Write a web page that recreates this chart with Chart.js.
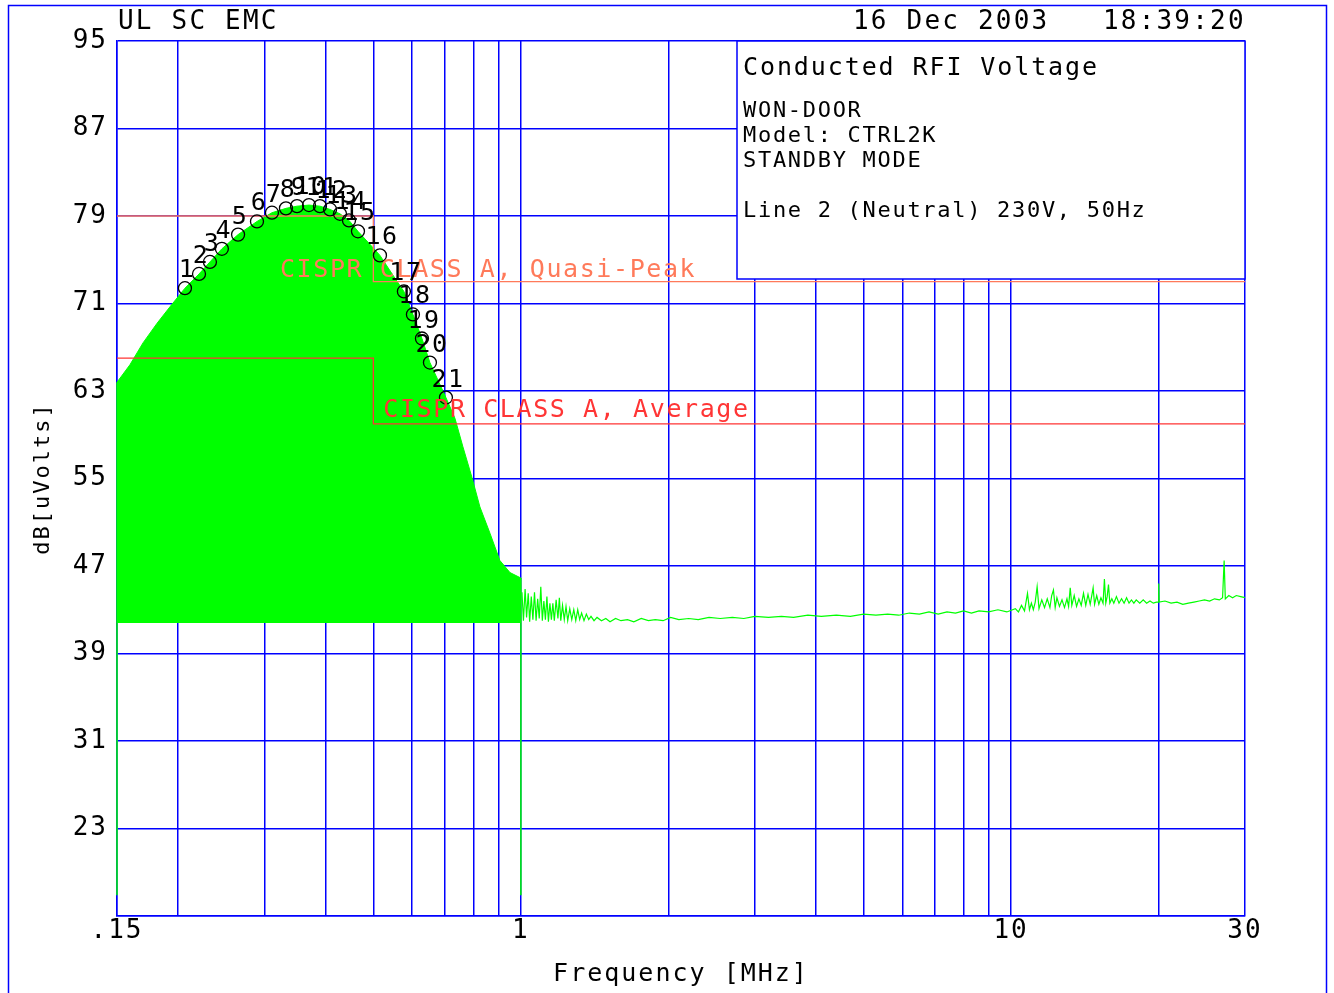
<!DOCTYPE html>
<html><head><meta charset="utf-8">
<script src="https://cdn.jsdelivr.net/npm/chart.js@4.4.1/dist/chart.umd.min.js"></script>
<style>html,body{margin:0;padding:0;background:#fff;}canvas{display:block;}</style>
</head><body>
<canvas id="c" width="1334" height="993"></canvas>
<script>
// ---------------- data ----------------
const gridFreqs = [0.15,0.2,0.3,0.4,0.5,0.6,0.7,0.8,0.9,1,2,3,4,5,6,7,8,9,10,20,30];
const xTickValues = [0.15, 1, 10, 30];
const xTickText = ['.15', '1', '10', '30'];
const yGridValues = [15,23,31,39,47,55,63,71,79,87,95];
const yTickValues = [23,31,39,47,55,63,71,79,87,95];

// envelope of the dense emission hump (0.15 - 1 MHz), filled down to the noise floor
const humpFreq  = [0.150,0.1594,0.1695,0.1811,0.1924,0.2064,0.2205,0.2321,0.2455,0.2649,0.2895,0.3106,0.3317,0.3494,0.3696,0.3891,0.408,0.4275,0.446,0.4652,0.49,0.5158,0.55,0.5772,0.6022,0.6283,0.6523,0.7032,0.7337,0.7616,0.7946,0.825,0.8647,0.906,0.95,1.0];
const humpLevel = [63.8,65.4,67.4,69.2,70.7,72.4,73.7,74.8,76.0,77.3,78.5,79.3,79.7,79.9,80.0,79.9,79.6,79.2,78.6,77.6,76.5,75.4,73.5,72.1,70.0,67.8,65.6,62.4,60.5,57.9,55.1,52.4,50.0,47.5,46.4,45.9];
const humpFloor = 41.8;

// vertical drops of the trace at band edges
const dropFreq  = [0.15, 0.15, 1.0, 1.0];
const dropLevel = [63.8, 16.9, 45.9, 16.9];

// trace above 1 MHz
const traceFreq = [1.005,1.012,1.020,1.027,1.035,1.042,1.050,1.058,1.066,1.074,1.082,1.090,1.098,1.106,1.114,1.122,1.130,1.138,1.146,1.154,1.162,1.170,1.180,1.190,1.198,1.206,1.216,1.226,1.236,1.246,1.258,1.270,1.282,1.294,1.306,1.318,1.330,1.345,1.360,1.375,1.39,1.41,1.43,1.46,1.49,1.52,1.56,1.60,1.65,1.70,1.76,1.82,1.88,1.95,2.02,2.10,2.20,2.30,2.42,2.55,2.70,2.85,3.00,3.20,3.40,3.60,3.85,4.10,4.40,4.70,5.00,5.30,5.60,5.90,6.20,6.50,6.80,7.10,7.40,7.70,8.00,8.30,8.60,9.00,9.40,9.80,
  10.2,10.35,10.5,10.65,10.8,10.9,11.0,11.1,11.2,11.3,11.4,11.55,11.7,11.85,12.0,12.1,12.2,12.3,12.4,12.55,12.7,12.85,13.0,13.1,13.2,13.3,13.45,13.6,13.75,13.9,14.05,14.2,14.35,14.5,14.7,14.8,14.95,15.1,15.25,15.4,15.5,15.6,15.7,15.8,15.9,16.05,16.2,16.4,16.6,16.8,17.0,17.2,17.4,17.6,17.8,18.0,18.3,18.6,18.9,19.2,19.5,19.8,19.95,20.0,20.05,
  20.6,21.2,21.8,22.4,23.0,23.6,24.2,24.8,25.4,26.0,26.6,27.0,27.2,27.35,27.8,28.3,28.8,29.4,30.0];
const traceLevel = [44.6,42.0,44.9,42.3,44.5,41.9,44.2,42.1,44.6,42.0,44.0,42.2,45.1,42.0,43.8,42.1,44.2,41.9,43.6,42.1,43.6,42.0,43.9,42.2,44.1,42.0,43.4,42.1,43.3,42.0,43.1,42.1,43.0,42.0,43.0,42.1,42.7,42.0,42.6,42.1,42.4,42.0,42.3,42.0,42.2,41.9,42.2,42.0,42.1,41.9,42.2,42.0,42.1,42.0,42.3,42.1,42.2,42.1,42.3,42.2,42.3,42.2,42.4,42.3,42.4,42.3,42.5,42.4,42.5,42.4,42.6,42.5,42.6,42.5,42.7,42.6,42.8,42.6,42.8,42.7,42.9,42.7,42.9,42.8,43.0,42.8,
  43.1,42.8,43.4,42.9,44.5,43.0,43.6,43.0,43.7,45.1,43.1,43.9,43.2,44.0,43.2,44.3,44.8,43.2,44.1,43.3,43.9,43.2,44.0,43.3,45.0,43.4,44.3,43.3,44.0,43.4,44.5,43.4,44.4,43.5,45.0,43.5,44.3,43.5,44.1,43.6,45.8,43.6,44.2,45.3,43.6,44.0,43.6,44.2,43.6,44.0,43.6,44.1,43.6,43.9,43.6,43.9,43.6,43.9,43.6,43.8,43.6,43.7,43.7,45.4,43.7,
  43.8,43.6,43.7,43.5,43.6,43.7,43.8,43.9,43.8,44.0,43.9,44.1,47.5,44.0,44.3,44.1,44.3,44.2,44.1];

// CISPR Class A limits
const qpFreq  = [0.15, 0.5, 0.5, 30];
const qpLevel = [79, 79, 73, 73];
const avFreq  = [0.15, 0.5, 0.5, 30];
const avLevel = [66, 66, 60, 60];
const qpLabel = 'CISPR CLASS A, Quasi-Peak';
const qpLabelFreq = 0.3225, qpLabelLevel = 73.4;
const avLabel = 'CISPR CLASS A, Average';
const avLabelFreq = 0.524, avLabelLevel = 60.6;

// peak markers 1..21
const markerFreq  = [0.2064,0.2205,0.2321,0.2455,0.2649,0.2895,0.3106,0.3317,0.3494,0.3696,0.3891,0.4080,0.4275,0.4460,0.4652,0.5158,0.5772,0.6022,0.6283,0.6523,0.7032];
const markerLevel = [72.4,73.7,74.8,76.0,77.3,78.5,79.3,79.7,79.9,80.0,79.9,79.6,79.2,78.6,77.6,75.4,72.1,70.0,67.8,65.6,62.4];

// texts
const headerLeft = 'UL SC EMC';
const headerRight = '16 Dec 2003   18:39:20';
const boxTitle = 'Conducted RFI Voltage';
const boxLines = ['WON-DOOR', 'Model: CTRL2K', 'STANDBY MODE', '', 'Line 2 (Neutral) 230V, 50Hz'];
const yTitle = 'dB[uVolts]';
const xTitle = 'Frequency [MHz]';

// ---------------- styles ----------------
const FONT = "'DejaVu Sans Mono', 'Liberation Mono', monospace";
const BLUE = '#0000ff';
const GREEN = '#00ff00';
const QP_COLOR = '#ff7a5a';
const AV_COLOR = '#ff3535';

function pts(xs, ys){ return xs.map((x,i)=>({x:x, y:ys[i]})); }
function txt(ctx, s, x, y, size, color, spacing, align, baseline){
  ctx.save();
  ctx.font = size + 'px ' + FONT;
  ctx.fillStyle = color;
  ctx.letterSpacing = spacing + 'px';
  ctx.textAlign = align || 'left';
  ctx.textBaseline = baseline || 'alphabetic';
  ctx.fillText(s, x, y);
  ctx.restore();
}

const dropData = [{x:dropFreq[0],y:dropLevel[0]},{x:dropFreq[1],y:dropLevel[1]},{x:0.5,y:null},{x:dropFreq[2],y:dropLevel[2]},{x:dropFreq[3],y:dropLevel[3]}];

const decor = {
  id: 'decor',
  beforeDraw(chart){
    const ctx = chart.ctx;
    ctx.save();
    ctx.fillStyle = '#fff';
    ctx.fillRect(0,0,chart.width,chart.height);
    ctx.strokeStyle = BLUE; ctx.lineWidth = 1.5;
    ctx.strokeRect(8.5, 5.5, 1318, 1010);
    ctx.restore();
    ctx.letterSpacing = '2px';
  },
  afterDatasetsDraw(chart){
    const ctx = chart.ctx, a = chart.chartArea, xs = chart.scales.x, ys = chart.scales.y;
    // info box
    const bl = a.right - 508, bt = a.top, bh = 238;
    ctx.save();
    ctx.fillStyle = '#fff';
    ctx.fillRect(bl, bt, a.right - bl, bh);
    ctx.strokeStyle = BLUE; ctx.lineWidth = 1.5;
    ctx.strokeRect(bl, bt, a.right - bl, bh);
    ctx.restore();
    txt(ctx, boxTitle, bl + 6, bt + 34, 25, '#000', 1.9);
    boxLines.forEach((s, i) => { if (s) txt(ctx, s, bl + 6, bt + 76 + i * 25, 22, '#000', 1.7); });
    // limit labels
    txt(ctx, qpLabel, xs.getPixelForValue(qpLabelFreq), ys.getPixelForValue(qpLabelLevel), 25, QP_COLOR, 1.6);
    txt(ctx, avLabel, xs.getPixelForValue(avLabelFreq), ys.getPixelForValue(avLabelLevel), 25, AV_COLOR, 1.6);
    // marker numbers
    markerFreq.forEach((f, i) => {
      const px = xs.getPixelForValue(f), py = ys.getPixelForValue(markerLevel[i]);
      txt(ctx, String(i + 1), px + 2, py - 11, 25, '#000', 1.5, 'center');
    });
    // header
    txt(ctx, headerLeft, a.left + 1, 29, 26, '#000', 2.2);
    txt(ctx, headerRight, 853, 29, 26, '#000', 2.2);
  }
};

Chart.defaults.font.family = FONT;
new Chart(document.getElementById('c'), {
  type: 'line',
  data: {
    datasets: [
      {label:'Markers', data: pts(markerFreq, markerLevel), showLine:false, pointRadius:6.5, pointHoverRadius:6.5, pointStyle:'circle', pointBorderColor:'#000', pointBackgroundColor:'rgba(0,0,0,0)', pointBorderWidth:1.3, order:0},
      {label:'QP limit', data: pts(qpFreq, qpLevel), borderColor:QP_COLOR, borderWidth:1.3, pointRadius:0, fill:false, order:1},
      {label:'AV limit', data: pts(avFreq, avLevel), borderColor:AV_COLOR, borderWidth:1.3, pointRadius:0, fill:false, order:1},
      {label:'Trace', data: pts(traceFreq, traceLevel), borderColor:GREEN, borderWidth:1.2, pointRadius:0, fill:false, order:2},
      {label:'Drops', data: dropData, borderColor:GREEN, borderWidth:1.5, pointRadius:0, fill:false, spanGaps:false, clip:false, order:2},
      {label:'Hump', data: pts(humpFreq, humpLevel), borderColor:GREEN, backgroundColor:GREEN, borderWidth:1, pointRadius:0, fill:{value:humpFloor}, order:3}
    ]
  },
  options: {
    responsive:false, animation:false, devicePixelRatio:1,
    layout:{padding:{left:0, top:41, right:89, bottom:0}},
    plugins:{legend:{display:false}, tooltip:{enabled:false}},
    scales:{
      x:{
        type:'logarithmic', min:0.15, max:30,
        afterBuildTicks: s => { s.ticks = gridFreqs.map(v => ({value:v})); },
        afterFit: s => { s.height = 77; },
        grid:{color:BLUE, lineWidth:1.5, drawTicks:false},
        border:{color:BLUE, width:1.5},
        ticks:{autoSkip:false, maxRotation:0, minRotation:0, padding:0, color:'#000', font:{family:FONT, size:26},
          callback: v => { const i = xTickValues.indexOf(v); return i >= 0 ? xTickText[i] : ''; }},
        title:{display:true, text:xTitle, color:'#000', font:{family:FONT, size:25}, padding:{top:0, bottom:4}}
      },
      y:{
        min:15, max:95,
        afterBuildTicks: s => { s.ticks = yGridValues.map(v => ({value:v})); },
        afterFit: s => { s.width = 117; },
        grid:{color:BLUE, lineWidth:1.5, drawTicks:false},
        border:{color:BLUE, width:1.5},
        ticks:{padding:9, color:'#000', font:{family:FONT, size:26},
          callback: v => yTickValues.indexOf(v) >= 0 ? String(v) : ''},
        title:{display:true, text:yTitle, color:'#000', font:{family:FONT, size:22}, padding:{top:30, bottom:0}}
      }
    }
  },
  plugins:[decor]
});
</script>
</body></html>
